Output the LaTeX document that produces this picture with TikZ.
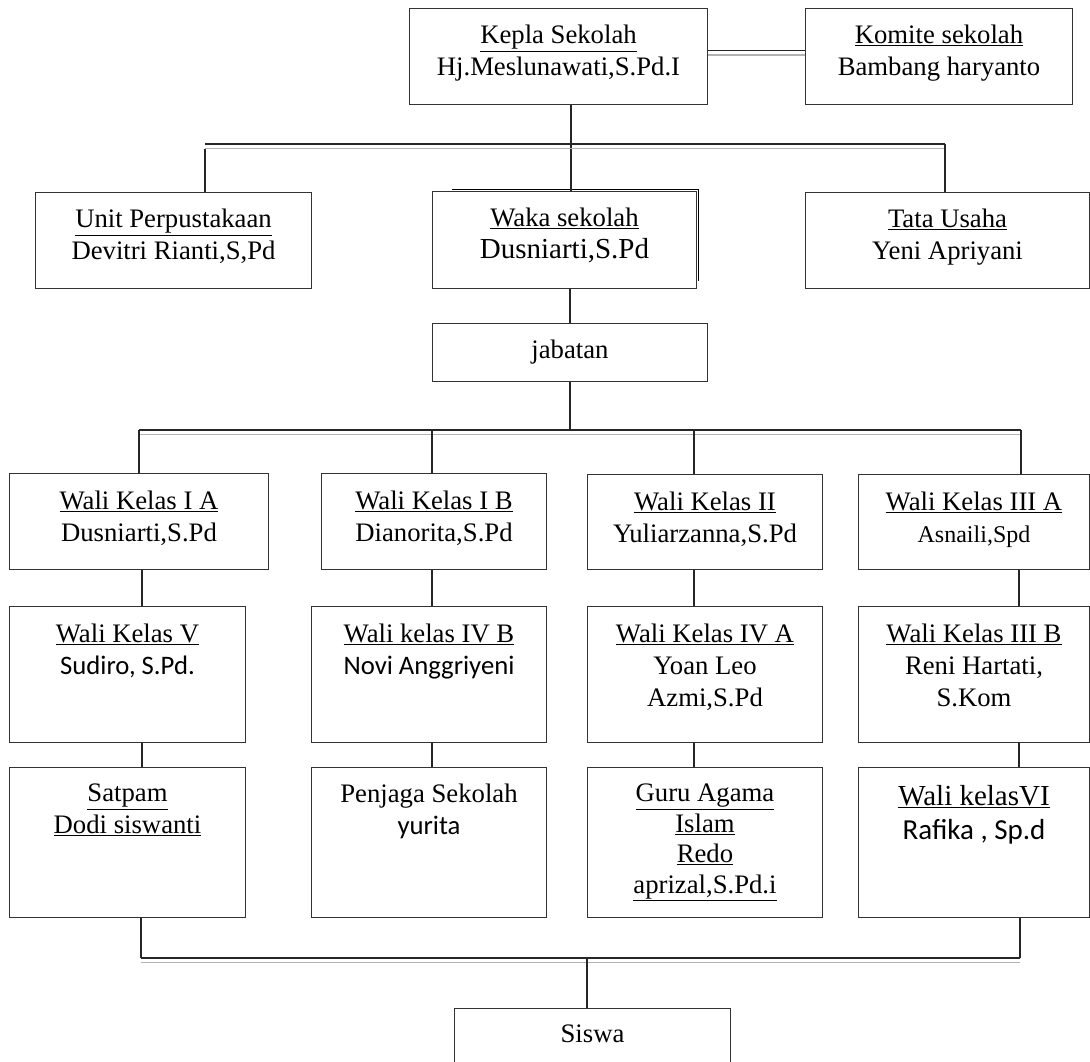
\documentclass[tikz,border=0pt]{standalone}
\usepackage{fontspec}
\setmainfont{Liberation Serif}
\newfontfamily\calibri{Carlito}
\usepackage{tikz}

\tikzset{
    box/.style={draw=black!80, line width=1pt, inner sep=0pt, anchor=north west},
    txt/.style={anchor=north, align=center, inner sep=0pt, font=\fontsize{26.7}{32}\selectfont},
    link/.style={line width=1.1pt, draw=black!85},
    dbl/.style={line width=1.1pt, draw=black!85,
        postaction={draw, black!30, line width=1.4pt, transform canvas={yshift=-4.5pt}}},
}

\begin{document}
\begin{tikzpicture}[x=1pt, y=-1pt]

    \useasboundingbox (0,0) rectangle (1090,1061);

    % Top of the chart
    \node[box, minimum width=298pt, minimum height=96pt] (kepala) at (409,8) {};
    \node[box, minimum width=267pt, minimum height=96pt] (komite) at (805,8) {};
    \node[txt] (kepalaT) at ([yshift=-17pt]kepala.north) {\underline{Kepla Sekolah}\\Hj.Meslunawati,S.Pd.I};
    \node[txt] (komiteT) at ([yshift=-17pt]komite.north) {\underline{Komite sekolah}\\Bambang haryanto};

    \node[box, minimum width=276pt, minimum height=96pt] (perpus) at (35,192) {};
    \node[box, minimum width=264pt, minimum height=97pt] (waka) at (432,191) {};
    \node[box, minimum width=284pt, minimum height=96pt] (tata) at (805,192) {};
    \node[txt] (perpusT) at ([yshift=-17pt]perpus.north) {\underline{Unit Perpustakaan}\\Devitri Rianti,S,Pd};
    \node[txt] (wakaT) at ([yshift=-17pt]waka.north) {\underline{Waka sekolah}\\{\fontsize{29}{32}\selectfont Dusniarti,S.Pd}};
    \node[txt] (tataT) at ([yshift=-17pt]tata.north) {\underline{Tata Usaha}\\Yeni Apriyani};

    % heavy edge on waka box
    \draw[line width=1.3pt] ([xshift=20pt, yshift=1.5pt]waka.north west) -- ([xshift=1.5pt, yshift=1.5pt]waka.north east) -- ([xshift=1.5pt, yshift=8pt]waka.south east);

    \node[box, minimum width=275pt, minimum height=58pt] (jab) at (432,323) {};
    \node[txt, anchor=center] (jabT) at (jab.center) {jabatan};

    % Wali kelas rows
    \node[box, minimum width=259pt, minimum height=96pt] (wIA) at (9,473) {};
    \node[box, minimum width=225pt, minimum height=96pt] (wIB) at (321,473) {};
    \node[box, minimum width=235pt, minimum height=95pt] (wII) at (587,474) {};
    \node[box, minimum width=231pt, minimum height=95pt] (wIIIA) at (858,474) {};
    \node[txt] (wIAT) at ([yshift=-18pt]wIA.north) {\underline{Wali Kelas I A}\\Dusniarti,S.Pd};
    \node[txt] (wIBT) at ([yshift=-18pt]wIB.north) {\underline{Wali Kelas I B}\\Dianorita,S.Pd};
    \node[txt] (wIIT) at ([yshift=-18pt]wII.north) {\underline{Wali Kelas II}\\Yuliarzanna,S.Pd};
    \node[txt] (wIIIAT) at ([yshift=-18pt]wIIIA.north) {\underline{Wali Kelas III A}\\{\fontsize{24}{30}\selectfont Asnaili,Spd}};

    \node[box, minimum width=236pt, minimum height=136pt] (wV) at (9,606) {};
    \node[box, minimum width=235pt, minimum height=136pt] (wIVB) at (311,606) {};
    \node[box, minimum width=235pt, minimum height=136pt] (wIVA) at (587,606) {};
    \node[box, minimum width=231pt, minimum height=136pt] (wIIIB) at (858,606) {};
    \node[txt] (wVT) at ([yshift=-18pt]wV.north) {\underline{Wali Kelas V}\\{\calibri Sudiro, S.Pd.}};
    \node[txt] (wIVBT) at ([yshift=-18pt]wIVB.north) {\underline{Wali kelas IV B}\\{\calibri Novi Anggriyeni}};
    \node[txt] (wIVAT) at ([yshift=-18pt]wIVA.north) {\underline{Wali Kelas IV A}\\Yoan Leo\\Azmi,S.Pd};
    \node[txt] (wIIIBT) at ([yshift=-18pt]wIIIB.north) {\underline{Wali Kelas III B}\\Reni Hartati,\\S.Kom};

    \node[box, minimum width=236pt, minimum height=150pt] (sat) at (9,767) {};
    \node[box, minimum width=235pt, minimum height=150pt] (jaga) at (311,767) {};
    \node[box, minimum width=235pt, minimum height=150pt] (guru) at (587,767) {};
    \node[box, minimum width=231pt, minimum height=150pt] (wVI) at (858,767) {};
    \node[txt] (satT) at ([yshift=-17pt]sat.north) {\underline{Satpam}\\\underline{Dodi siswanti}};
    \node[txt] (jagaT) at ([yshift=-17pt]jaga.north) {Penjaga Sekolah\\{\calibri yurita}};
    \node[txt, font=\fontsize{26.7}{30.5}\selectfont] (guruT) at ([yshift=-17pt]guru.north) {\underline{Guru Agama}\\\underline{Islam}\\\underline{Redo}\\\underline{aprizal,S.Pd.i}};
    \node[txt, font=\fontsize{29}{34}\selectfont] (wVIT) at ([yshift=-18pt]wVI.north) {\underline{Wali kelasVI}\\{\calibri Rafika , Sp.d}};

    \node[box, minimum width=276pt, minimum height=80pt] (siswa) at (454,1008) {};
    \node[txt] (siswaT) at ([yshift=-17pt]siswa.north) {Siswa};

    % junctions
    \coordinate (topL) at (205,144);
    \coordinate (topM) at (571,144);
    \coordinate (topR) at (945,144);
    \coordinate (midL) at (139,430);
    \coordinate (midM) at (570,430);
    \coordinate (midR) at (1021,430);
    \coordinate (botL) at (141,958);
    \coordinate (botM) at (587,958);
    \coordinate (botR) at (1020,958);
    \coordinate (c1) at (142,0);
    \coordinate (c2) at (432,0);
    \coordinate (c3) at (694,0);
    \coordinate (c4) at (1019,0);

    % connectors
    \draw[dbl] ([yshift=6pt]kepala.east) -- ([yshift=6pt]komite.west);
    \draw[link] (kepala.south -| topM) -- (waka.north -| topM);
    \draw[dbl] (topL) -- (topR);
    \draw[link] ([yshift=-5pt]topL) -- (perpus.north -| topL);
    \draw[link] (topR) -- (tata.north -| topR);

    \draw[link] (waka.south -| jab.north) -- (jab.north);
    \draw[link] (jab.south) -- (midM);
    \draw[dbl] (midL) -- (midR);
    \draw[link] (midL) -- (wIA.north -| midL);
    \draw[link] (midM -| c2) -- (wIB.north -| c2);
    \draw[link] (midM -| c3) -- (wII.north -| c3);
    \draw[link] (midR) -- (wIIIA.north -| midR);

    \draw[link] (wIA.south -| c1) -- (wV.north -| c1);
    \draw[link] (wIB.south -| c2) -- (wIVB.north -| c2);
    \draw[link] (wII.south -| c3) -- (wIVA.north -| c3);
    \draw[link] (wIIIA.south -| c4) -- (wIIIB.north -| c4);

    \draw[link] (wV.south -| c1) -- (sat.north -| c1);
    \draw[link] (wIVB.south -| c2) -- (jaga.north -| c2);
    \draw[link] (wIVA.south -| c3) -- (guru.north -| c3);
    \draw[link] (wIIIB.south -| c4) -- (wVI.north -| c4);

    \draw[link] (sat.south -| botL) -- (botL);
    \draw[link] (wVI.south -| botR) -- (botR);
    \draw[dbl] (botL) -- (botR);
    \draw[link] (botM) -- (siswa.north -| botM);

\end{tikzpicture}
\end{document}
